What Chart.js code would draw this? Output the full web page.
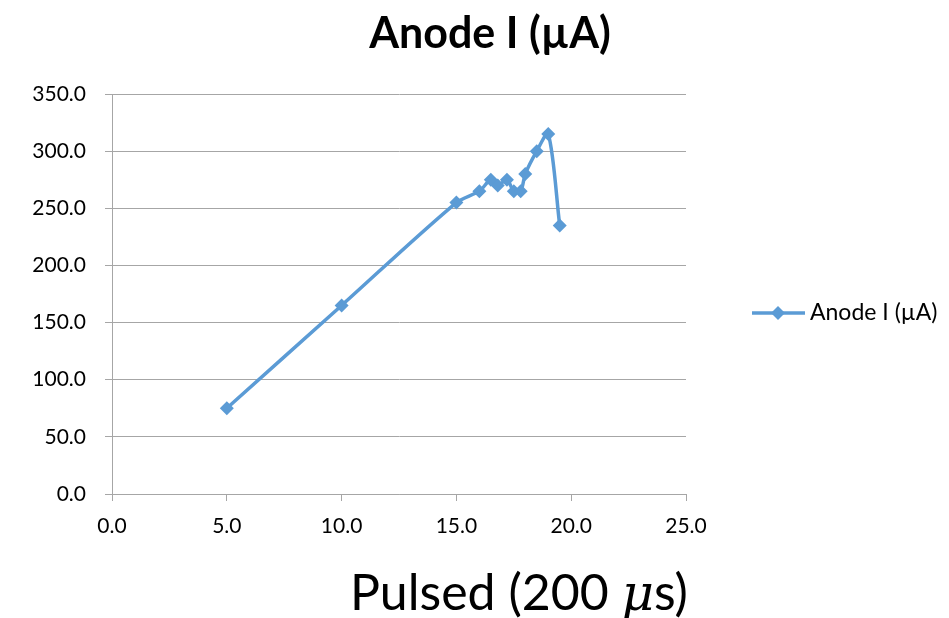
<!DOCTYPE html>
<html>
<head>
<meta charset="utf-8">
<script src="https://cdn.jsdelivr.net/npm/chart.js@4.4.1/dist/chart.umd.min.js"></script>
<style>
  html, body { margin: 0; padding: 0; background: #ffffff; }
  #wrap { width: 949px; height: 618px; }
</style>
</head>
<body>
<div id="wrap"><canvas id="chart" width="949" height="618"></canvas></div>
<script>
// Pulse length vs. anode current
const pulseValues = [5, 10, 15, 16, 16.5, 16.8, 17.2, 17.5, 17.8, 18, 18.5, 19, 19.5];
const anodeCurrent = [75, 165, 255, 265, 275, 270, 275, 265, 265, 280, 300, 315, 235];
const xTicks = [0, 5, 10, 15, 20, 25];
const yTicks = [0, 50, 100, 150, 200, 250, 300, 350];

const seriesName = 'Anode I (\u00B5A)';
const chartTitle = 'Anode I (\u00B5A)';
const FONT = 'Lato, "Open Sans", sans-serif';
const BLUE = '#5b9bd5';
const GRID = '#a6a6a6';

const points = pulseValues.map((x, i) => ({ x: x, y: anodeCurrent[i] }));

// Title, axis title (with italic mu) and legend drawn on the canvas
const decorations = {
  id: 'decorations',
  afterDraw(chart) {
    const ctx = chart.ctx;
    ctx.save();
    // chart title
    ctx.fillStyle = '#000';
    ctx.textAlign = 'center';
    ctx.textBaseline = 'alphabetic';
    ctx.font = 'bold 43px ' + FONT;
    ctx.fillText(chartTitle, 490, 48);

    // x axis title: "Pulsed (200 μs)" with italic μ
    const parts = [
      { t: 'Pulsed (200 ', f: '50px ' + FONT },
      { t: '\u03BC', f: 'italic 50px "DejaVu Serif", serif' },
      { t: 's)', f: '50px ' + FONT }
    ];
    let total = 0;
    parts.forEach(p => { ctx.font = p.f; p.w = ctx.measureText(p.t).width; total += p.w; });
    let x = 519 - total / 2;
    ctx.textAlign = 'left';
    parts.forEach(p => { ctx.font = p.f; ctx.fillText(p.t, x, 610); x += p.w; });

    // legend
    const ly = 313;
    ctx.strokeStyle = BLUE;
    ctx.lineWidth = 3.5;
    ctx.beginPath();
    ctx.moveTo(752, ly);
    ctx.lineTo(805, ly);
    ctx.stroke();
    ctx.fillStyle = BLUE;
    ctx.beginPath();
    ctx.moveTo(778, ly - 7);
    ctx.lineTo(785, ly);
    ctx.lineTo(778, ly + 7);
    ctx.lineTo(771, ly);
    ctx.closePath();
    ctx.fill();
    ctx.fillStyle = '#000';
    ctx.font = '23px ' + FONT;
    ctx.textBaseline = 'middle';
    ctx.fillText(seriesName, 810, ly);
    ctx.restore();
  }
};

new Chart(document.getElementById('chart'), {
  type: 'line',
  data: {
    datasets: [{
      label: seriesName,
      data: points,
      borderColor: BLUE,
      backgroundColor: BLUE,
      borderWidth: 3.5,
      tension: 0.3,
      pointStyle: 'rectRot',
      pointRadius: 7,
      pointBorderWidth: 0,
      pointBackgroundColor: BLUE,
      fill: false
    }]
  },
  options: {
    responsive: false,
    animation: false,
    layout: { padding: { top: 94, right: 263, bottom: 0, left: 0 } },
    plugins: {
      legend: { display: false },
      title: { display: false },
      tooltip: { enabled: false }
    },
    scales: {
      x: {
        type: 'linear',
        min: 0, max: 25,
        afterBuildTicks(axis) { axis.ticks = xTicks.map(v => ({ value: v })); },
        afterFit(axis) { axis.height = 124; },
        grid: { display: true, drawOnChartArea: false, drawTicks: true, tickLength: 7, color: GRID },
        border: { display: true, color: GRID, width: 1 },
        ticks: {
          color: '#000',
          padding: 13,
          maxRotation: 0,
          font: { family: FONT, size: 21 },
          callback: v => Number(v).toFixed(1)
        }
      },
      y: {
        min: 0, max: 350,
        afterBuildTicks(axis) { axis.ticks = yTicks.map(v => ({ value: v })); },
        afterFit(axis) { axis.width = 112; },
        grid: { display: true, drawTicks: true, tickLength: 7, color: GRID },
        border: { display: true, color: GRID, width: 1 },
        ticks: {
          color: '#000',
          padding: 19,
          font: { family: FONT, size: 21 },
          callback: v => Number(v).toFixed(1)
        }
      }
    }
  },
  plugins: [decorations]
});
</script>
</body>
</html>
